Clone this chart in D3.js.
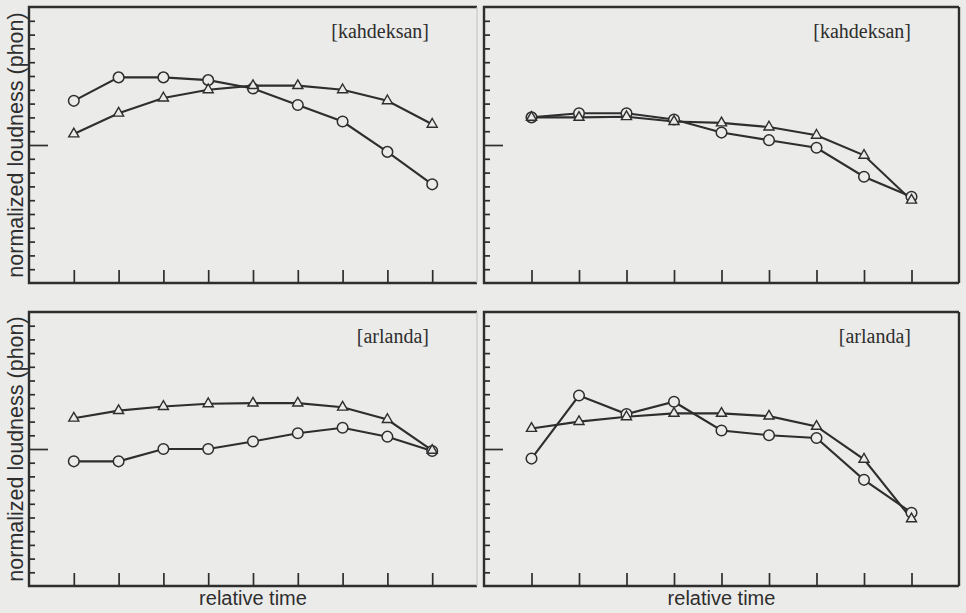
<!DOCTYPE html>
<html>
<head>
<meta charset="utf-8">
<script src="https://cdn.jsdelivr.net/npm/d3@7"></script>
<style>
  html, body { margin: 0; padding: 0; background: #ebebea; }
  svg { display: block; }
  .word { font-family: "Liberation Serif", "Times New Roman", serif; font-size: 20px; fill: #2e2e2e; }
  .axlab { font-family: "Liberation Sans", Arial, sans-serif; fill: #2e2e2e; }
</style>
</head>
<body>
<svg id="chart" width="966" height="613"></svg>
<script>
// ---------------------------------------------------------------------------
// DATA  (loudness relative to the mid tick)
// ---------------------------------------------------------------------------

const TIME_STEPS = [0, 1, 2, 3, 4, 5, 6, 7, 8];
const Y_TICKS = d3.range(-9, 10);

const WORDS = ['[kahdeksan]', '[kahdeksan]', '[arlanda]', '[arlanda]'];

const kahdeksanLeftCircles   = [3.2, 4.9, 4.9, 4.7, 4.1, 2.9, 1.7, -0.5, -2.85];
const kahdeksanLeftTriangles = [0.8, 2.3, 3.4, 4.0, 4.3, 4.3, 4.0, 3.2, 1.5];

const kahdeksanRightCircles   = [2.0, 2.3, 2.3, 1.85, 0.9, 0.35, -0.2, -2.3, -3.75];
const kahdeksanRightTriangles = [2.0, 2.0, 2.05, 1.7, 1.6, 1.3, 0.7, -0.75, -4.0];

const arlandaLeftCircles   = [-0.9, -0.9, 0.0, 0.0, 0.55, 1.15, 1.55, 0.9, -0.15];
const arlandaLeftTriangles = [2.25, 2.8, 3.1, 3.3, 3.35, 3.35, 3.05, 2.15, -0.1];

const arlandaRightCircles   = [-0.7, 3.9, 2.55, 3.45, 1.35, 1.0, 0.8, -2.25, -4.65];
const arlandaRightTriangles = [1.5, 2.0, 2.35, 2.6, 2.6, 2.4, 1.65, -0.75, -5.1];

const Y_LABEL = 'normalized loudness (phon)';
const X_LABEL = 'relative time';

// ---------------------------------------------------------------------------
// LAYOUT
// ---------------------------------------------------------------------------

const INK = '#2e2e2e';
const PAPER = '#ebebea';

const panels = [
  { box: [29, 7, 477, 283],   word: WORDS[0], circles: kahdeksanLeftCircles,   triangles: kahdeksanLeftTriangles,   left: true },
  { box: [484, 7, 959, 283],  word: WORDS[1], circles: kahdeksanRightCircles,  triangles: kahdeksanRightTriangles,  left: false },
  { box: [29, 312, 477, 586], word: WORDS[2], circles: arlandaLeftCircles,     triangles: arlandaLeftTriangles,     left: true },
  { box: [484, 312, 959, 586], word: WORDS[3], circles: arlandaRightCircles,   triangles: arlandaRightTriangles,    left: false }
];

const svg = d3.select('#chart');
svg.append('rect').attr('width', 966).attr('height', 613).attr('fill', PAPER);

panels.forEach((p, i) => {
  const [x0, y0, x1, y1] = p.box;
  const x = d3.scaleLinear().domain([-1, 9]).range([x0, x1]);
  const y = d3.scaleLinear().domain([-10, 10]).range([y1, y0]);
  const g = svg.append('g');

  // ticks, pointing into the plot; the mid one is longer
  const yAxis = g.append('g')
    .attr('transform', `translate(${x0},0)`)
    .call(d3.axisLeft(y).tickValues(Y_TICKS).tickSize(-6).tickFormat(''));
  yAxis.select('.domain').remove();
  yAxis.selectAll('.tick line')
    .attr('stroke', INK).attr('stroke-width', 1.7)
    .attr('x2', d => d === 0 ? 19 : 6);

  const xAxis = g.append('g')
    .attr('transform', `translate(0,${y1})`)
    .call(d3.axisBottom(x).tickValues(TIME_STEPS).tickSize(-13).tickFormat(''));
  xAxis.select('.domain').remove();
  xAxis.selectAll('.tick line').attr('stroke', INK).attr('stroke-width', 1.7);

  // frame
  g.append('path')
    .attr('d', `M${x1},${y0}H${x0}V${y1}H${x1}`)
    .attr('fill', 'none').attr('stroke', INK).attr('stroke-width', 2.4);
  g.append('line')
    .attr('x1', x1).attr('x2', x1).attr('y1', y0).attr('y2', y1)
    .attr('stroke', p.left ? '#c8c8c8' : INK).attr('stroke-width', p.left ? 1.2 : 2.4);

  // series
  const line = d3.line().x((d, k) => x(TIME_STEPS[k])).y(d => y(d));
  [p.triangles, p.circles].forEach(vals => {
    g.append('path').datum(vals).attr('d', line)
      .attr('fill', 'none').attr('stroke', INK).attr('stroke-width', 2.1);
  });

  g.selectAll('circle.c').data(p.circles).join('circle')
    .attr('class', 'c')
    .attr('cx', (d, k) => x(TIME_STEPS[k])).attr('cy', d => y(d)).attr('r', 5.3)
    .attr('fill', PAPER).attr('stroke', INK).attr('stroke-width', 1.5);

  const tri = d3.symbol().type(d3.symbolTriangle).size(44);
  g.selectAll('path.t').data(p.triangles).join('path')
    .attr('class', 't')
    .attr('d', tri)
    .attr('transform', (d, k) => `translate(${x(TIME_STEPS[k])},${y(d)})`)
    .attr('fill', PAPER).attr('stroke', INK).attr('stroke-width', 1.4);

  // word label
  g.append('text').attr('class', 'word')
    .attr('x', x1 - 48).attr('y', y0 + 31)
    .attr('text-anchor', 'end')
    .text(p.word);

  // axis labels
  if (p.left) {
    svg.append('text').attr('class', 'axlab')
      .attr('transform', `translate(16,${(y0 + y1) / 2}) rotate(-90)`)
      .attr('text-anchor', 'middle').attr('dominant-baseline', 'central')
      .style('font-size', '21.5px')
      .text(Y_LABEL);
  }
  if (i >= 2) {
    svg.append('text').attr('class', 'axlab')
      .attr('x', x(4)).attr('y', 605)
      .attr('text-anchor', 'middle')
      .style('font-size', '20px')
      .text(X_LABEL);
  }
});
</script>
</body>
</html>
